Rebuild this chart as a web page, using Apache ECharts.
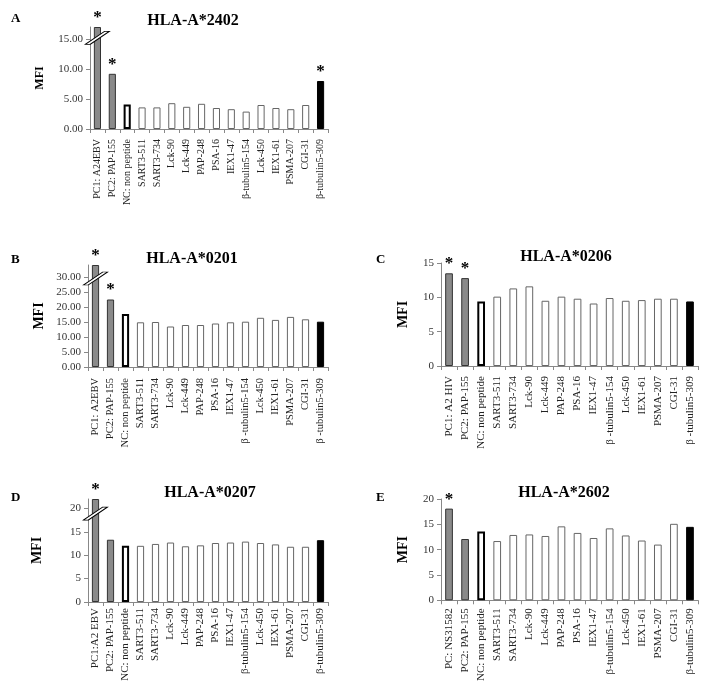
<!DOCTYPE html>
<html lang="en">
<head>
<meta charset="UTF-8">
<title>HLA MFI</title>
<script src="https://cdn.jsdelivr.net/npm/echarts@6/dist/echarts.min.js"></script>
</head>
<body style="margin:0;background:#fff">
<div id="main" style="width:708px;height:684px"></div>
<script>
// categories per panel (first label and beta spelling differ a bit)
var catsA = ['PC1: A24EBV', 'PC2: PAP-155', 'NC: non peptide', 'SART3-511', 'SART3-734', 'Lck-90', 'Lck-449', 'PAP-248', 'PSA-16', 'IEX1-47', 'β-tubulin5-154', 'Lck-450', 'IEX1-61', 'PSMA-207', 'CGI-31', 'β-tubulin5-309'];
var catsB = ['PC1: A2EBV', 'PC2: PAP-155', 'NC: non peptide', 'SART3-511', 'SART3-734', 'Lck-90', 'Lck-449', 'PAP-248', 'PSA-16', 'IEX1-47', 'β -tubulin5-154', 'Lck-450', 'IEX1-61', 'PSMA-207', 'CGI-31', 'β -tubulin5-309'];
var catsC = ['PC1: A2 HIV', 'PC2: PAP-155', 'NC: non peptide', 'SART3-511', 'SART3-734', 'Lck-90', 'Lck-449', 'PAP-248', 'PSA-16', 'IEX1-47', 'β -tubulin5-154', 'Lck-450', 'IEX1-61', 'PSMA-207', 'CGI-31', 'β -tubulin5-309'];
var catsD = ['PC1:A2 EBV', 'PC2: PAP-155', 'NC: non peptide', 'SART3-511', 'SART3-734', 'Lck-90', 'Lck-449', 'PAP-248', 'PSA-16', 'IEX1-47', 'β-tubulin5-154', 'Lck-450', 'IEX1-61', 'PSMA-207', 'CGI-31', 'β-tubulin5-309'];
var catsE = ['PC: NS31582', 'PC2: PAP-155', 'NC: non peptide', 'SART3-511', 'SART3-734', 'Lck-90', 'Lck-449', 'PAP-248', 'PSA-16', 'IEX1-47', 'β-tubulin5-154', 'Lck-450', 'IEX1-61', 'PSMA-207', 'CGI-31', 'β-tubulin5-309'];

// MFI values (first bar of A, B, D runs off the axis -> shown at axis top)
var valsA = [17, 9.2, 4.1, 3.6, 3.6, 4.3, 3.7, 4.2, 3.5, 3.3, 2.9, 4.0, 3.5, 3.3, 4.0, 8.0];
var valsB = [34, 22.5, 17.7, 14.9, 15.0, 13.5, 14.0, 14.0, 14.5, 14.9, 15.1, 16.4, 15.7, 16.7, 15.9, 15.1];
var valsC = [13.5, 12.8, 9.4, 10.1, 11.3, 11.6, 9.5, 10.1, 9.8, 9.1, 9.9, 9.5, 9.6, 9.8, 9.8, 9.4];
var valsD = [22, 13.3, 12.0, 12.0, 12.4, 12.7, 11.9, 12.1, 12.6, 12.7, 12.9, 12.6, 12.3, 11.8, 11.8, 13.2];
var valsE = [18.1, 12.1, 13.6, 11.7, 12.9, 13.0, 12.7, 14.6, 13.3, 12.3, 14.2, 12.8, 11.8, 11.0, 15.1, 14.5];

// y tick labels
var ticksA = [0, 5, 10, 15];
var ticksB = [0, 5, 10, 15, 20, 25, 30];
var ticksC = [0, 5, 10, 15];
var ticksD = [0, 5, 10, 15, 20];
var ticksE = [0, 5, 10, 15, 20];

// significant bars (*)
var starsA = [0, 1, 15];
var starsB = [0, 1];
var starsC = [0, 1];
var starsD = [0];
var starsE = [0];

var panels = [
    {letter: 'A', title: 'HLA-A*2402', cats: catsA, vals: valsA, ticks: ticksA, stars: starsA, max: 17, dec: 2, brk: 15.2,
        left: 90, top: 27, width: 238, height: 102, fs: 10, margin: 10, gap: 44, mfi: 12, tx: 188, lx: 6, ly: 7},
    {letter: 'B', title: 'HLA-A*0201', cats: catsB, vals: valsB, ticks: ticksB, stars: starsB, max: 34, dec: 2, brk: 29.5,
        left: 88, top: 265, width: 240, height: 102, fs: 10.5, margin: 11, gap: 42, mfi: 14, tx: 187, lx: 6, ly: 248},
    {letter: 'C', title: 'HLA-A*0206', cats: catsC, vals: valsC, ticks: ticksC, stars: starsC, max: 15, dec: 0, brk: null,
        left: 441, top: 263, width: 257, height: 103, fs: 11, margin: 10, gap: 31, mfi: 14, tx: 561, lx: 371, ly: 248},
    {letter: 'D', title: 'HLA-A*0207', cats: catsD, vals: valsD, ticks: ticksD, stars: starsD, max: 22, dec: 0, brk: 18.9,
        left: 88, top: 499, width: 240, height: 103, fs: 11, margin: 6, gap: 44, mfi: 14, tx: 205, lx: 6, ly: 486},
    {letter: 'E', title: 'HLA-A*2602', cats: catsE, vals: valsE, ticks: ticksE, stars: starsE, max: 20, dec: 0, brk: null,
        left: 441, top: 499, width: 257, height: 103, fs: 11, margin: 8, gap: 31, mfi: 14, tx: 559, lx: 371, ly: 486}
];

var serif = 'Liberation Serif';
var myChart = echarts.init(document.getElementById('main'));

function barStyle(i, n) {
    if (i < 2) return {color: '#8a8a8a', borderColor: '#333', borderWidth: 1};
    if (i == 2) return {color: '#fff', borderColor: '#000', borderWidth: 2};
    if (i == n - 1) return {color: '#000', borderColor: '#000', borderWidth: 1};
    return {color: '#fff', borderColor: '#666', borderWidth: 1};
}

var grids = [], xAxes = [], yAxes = [], series = [], titles = [];
for (var p = 0; p < panels.length; p++) {
    var P = panels[p];
    grids.push({left: P.left, top: P.top, width: P.width, height: P.height});
    titles.push({
        text: P.title, left: P.tx, top: P.top - 19, textAlign: 'center',
        textStyle: {fontFamily: serif, fontWeight: 'bold', fontSize: 16, color: '#000'}
    });
    titles.push({
        text: P.letter, left: P.lx, top: P.ly,
        textStyle: {fontFamily: serif, fontWeight: 'bold', fontSize: 13, color: '#000'}
    });
    xAxes.push({
        type: 'category', gridIndex: p, data: P.cats,
        axisLine: {lineStyle: {color: '#888'}},
        axisTick: {show: true, length: 4, lineStyle: {color: '#888'}},
        axisLabel: {interval: 0, rotate: 90, margin: P.margin, fontFamily: serif, fontSize: P.fs, color: '#222'}
    });
    yAxes.push({
        type: 'value', gridIndex: p, min: 0, max: P.max, interval: 5,
        name: 'MFI', nameLocation: 'middle', nameGap: P.gap,
        nameTextStyle: {fontFamily: serif, fontWeight: 'bold', fontSize: P.mfi, color: '#000'},
        splitLine: {show: false},
        axisLine: {show: true, lineStyle: {color: '#888'}},
        axisTick: {show: true, length: 4, customValues: P.ticks, lineStyle: {color: '#888'}},
        axisLabel: {
            customValues: P.ticks, margin: 7, fontFamily: serif, fontSize: 11, color: '#333',
            formatter: (function (d) { return function (v) { return v.toFixed(d); }; })(P.dec)
        }
    });
    var data = [];
    for (var i = 0; i < P.vals.length; i++) {
        var star = P.stars.indexOf(i) >= 0;
        data.push({
            value: P.vals[i],
            itemStyle: barStyle(i, P.vals.length),
            label: {show: star}
        });
    }
    var s = {
        type: 'bar', xAxisIndex: p, yAxisIndex: p, data: data, barWidth: '48%',
        silent: true, animation: false,
        label: {show: false, position: 'top', distance: 1, formatter: '*',
            fontFamily: serif, fontWeight: 'bold', fontSize: 17, color: '#000'}
    };
    if (P.brk !== null) {
        s.markPoint = {
            silent: true, animation: false,
            symbol: 'path://M0,10 L16,0 L20,0 L4,10 Z',
            symbolSize: [24, 13],
            itemStyle: {color: '#fff', borderColor: '#000', borderWidth: 1},
            label: {show: false},
            data: [{coord: [P.cats[0], P.brk]}]
        };
    }
    series.push(s);
}

myChart.setOption({
    animation: false,
    title: titles,
    grid: grids,
    xAxis: xAxes,
    yAxis: yAxes,
    series: series
});
</script>
</body>
</html>
